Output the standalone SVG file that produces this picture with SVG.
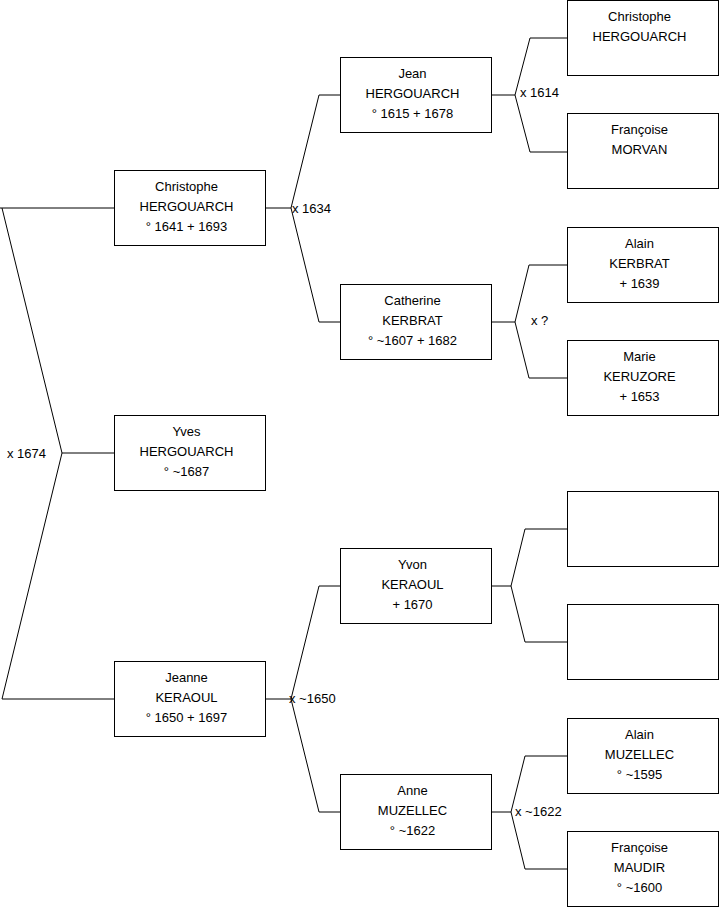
<svg xmlns="http://www.w3.org/2000/svg" width="719" height="908" viewBox="0 0 719 908">
<style>
.box{fill:#fff;stroke:#000;stroke-width:1}
.c{fill:none;stroke:#000;stroke-width:1}
text{font-family:"Liberation Sans",Arial,sans-serif;font-size:13px;fill:#000}
.n text{text-anchor:middle}
</style>
<rect width="719" height="908" fill="#fff"/>
<g id="connectors">
<polyline class="c" points="114,208 0,208"/>
<polyline class="c" points="2,208 62,453 2,699"/>
<polyline class="c" points="62,453 114,453"/>
<polyline class="c" points="2,699 114,699"/>
<polyline class="c" points="265,208 291,208"/>
<polyline class="c" points="341,95 319,95 291,208 319,322 341,322"/>
<polyline class="c" points="491,95 515,95"/>
<polyline class="c" points="567,38 530,38 515,95 530,152 567,152"/>
<polyline class="c" points="491,322 515,322"/>
<polyline class="c" points="567,265 529,265 515,322 529,378 567,378"/>
<polyline class="c" points="265,699 291,699"/>
<polyline class="c" points="341,586 319,586 291,699 319,812 341,812"/>
<polyline class="c" points="491,586 511,586"/>
<polyline class="c" points="567,529 525,529 511,586 525,642 567,642"/>
<polyline class="c" points="491,812 511,812"/>
<polyline class="c" points="567,756 525,756 511,812 525,869 567,869"/>
<text x="7" y="457.5">x 1674</text>
<text x="292" y="212.5">x 1634</text>
<text x="520" y="97">x 1614</text>
<text x="531" y="324.5">x ?</text>
<text x="289" y="703">x ~1650</text>
<text x="515" y="816">x ~1622</text>
</g>
<g id="n1" class="n"><rect class="box" x="114.5" y="170.5" width="151" height="75"/><text x="186.5" y="191">Christophe</text><text x="186.5" y="211">HERGOUARCH</text><text x="186.5" y="231">° 1641 + 1693</text></g>
<g id="n2" class="n"><rect class="box" x="114.5" y="415.5" width="151" height="75"/><text x="186.5" y="436">Yves</text><text x="186.5" y="456">HERGOUARCH</text><text x="186.5" y="476">° ~1687</text></g>
<g id="n3" class="n"><rect class="box" x="114.5" y="661.5" width="151" height="75"/><text x="186.5" y="682">Jeanne</text><text x="186.5" y="702">KERAOUL</text><text x="186.5" y="722">° 1650 + 1697</text></g>
<g id="n4" class="n"><rect class="box" x="340.5" y="57.5" width="151" height="75"/><text x="412.5" y="78">Jean</text><text x="412.5" y="98">HERGOUARCH</text><text x="412.5" y="118">° 1615 + 1678</text></g>
<g id="n5" class="n"><rect class="box" x="340.5" y="284.5" width="151" height="75"/><text x="412.5" y="305">Catherine</text><text x="412.5" y="325">KERBRAT</text><text x="412.5" y="345">° ~1607 + 1682</text></g>
<g id="n6" class="n"><rect class="box" x="340.5" y="548.5" width="151" height="75"/><text x="412.5" y="569">Yvon</text><text x="412.5" y="589">KERAOUL</text><text x="412.5" y="609">+ 1670</text></g>
<g id="n7" class="n"><rect class="box" x="340.5" y="774.5" width="151" height="75"/><text x="412.5" y="795">Anne</text><text x="412.5" y="815">MUZELLEC</text><text x="412.5" y="835">° ~1622</text></g>
<g id="n8" class="n"><rect class="box" x="567.5" y="0.5" width="151" height="75"/><text x="639.5" y="21">Christophe</text><text x="639.5" y="41">HERGOUARCH</text></g>
<g id="n9" class="n"><rect class="box" x="567.5" y="113.5" width="151" height="75"/><text x="639.5" y="134">Françoise</text><text x="639.5" y="154">MORVAN</text></g>
<g id="n10" class="n"><rect class="box" x="567.5" y="227.5" width="151" height="75"/><text x="639.5" y="248">Alain</text><text x="639.5" y="268">KERBRAT</text><text x="639.5" y="288">+ 1639</text></g>
<g id="n11" class="n"><rect class="box" x="567.5" y="340.5" width="151" height="75"/><text x="639.5" y="361">Marie</text><text x="639.5" y="381">KERUZORE</text><text x="639.5" y="401">+ 1653</text></g>
<g id="n12" class="n"><rect class="box" x="567.5" y="491.5" width="151" height="75"/></g>
<g id="n13" class="n"><rect class="box" x="567.5" y="604.5" width="151" height="75"/></g>
<g id="n14" class="n"><rect class="box" x="567.5" y="718.5" width="151" height="75"/><text x="639.5" y="739">Alain</text><text x="639.5" y="759">MUZELLEC</text><text x="639.5" y="779">° ~1595</text></g>
<g id="n15" class="n"><rect class="box" x="567.5" y="831.5" width="151" height="75"/><text x="639.5" y="852">Françoise</text><text x="639.5" y="872">MAUDIR</text><text x="639.5" y="892">° ~1600</text></g>
</svg>
